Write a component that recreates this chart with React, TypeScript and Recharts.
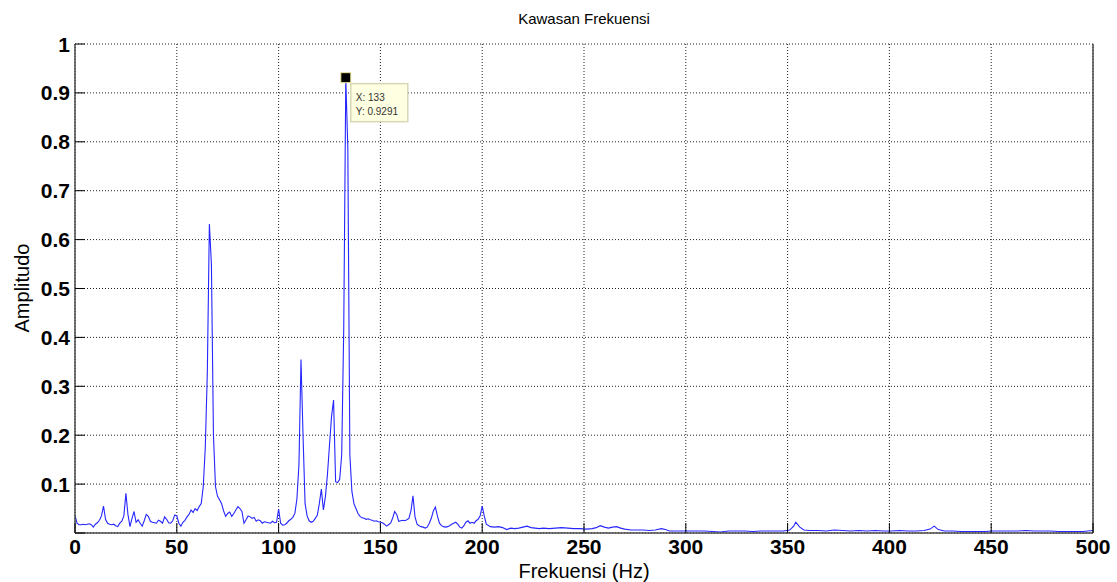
import React from "react";
import { LineChart, Line, XAxis, YAxis, CartesianGrid, ReferenceDot } from "recharts";

if (typeof document !== "undefined") {
  document.body.style.margin = "0";
  document.body.style.overflow = "hidden";
}

// Spectrum 0..200 Hz at 1 Hz resolution
const lowFreqAmplitude: number[] = [
  0.036, 0.02, 0.017, 0.017, 0.018, 0.017, 0.018, 0.019, 0.017, 0.012,
  0.018, 0.021, 0.026, 0.035, 0.055, 0.028, 0.02, 0.018, 0.017, 0.018,
  0.015, 0.013, 0.02, 0.024, 0.035, 0.081, 0.038, 0.013, 0.03, 0.044,
  0.022, 0.027, 0.02, 0.014, 0.025, 0.038, 0.034, 0.024, 0.022, 0.021,
  0.02, 0.026, 0.024, 0.02, 0.033, 0.028, 0.021, 0.02, 0.025, 0.037,
  0.035, 0.02, 0.014, 0.022, 0.026, 0.033, 0.038, 0.047, 0.042, 0.05,
  0.046, 0.054, 0.06, 0.095, 0.176, 0.33, 0.632, 0.55, 0.2, 0.095,
  0.075, 0.068, 0.06, 0.045, 0.034, 0.04, 0.043, 0.034, 0.04, 0.047,
  0.054, 0.05, 0.044, 0.02, 0.027, 0.035, 0.033, 0.03, 0.032, 0.024,
  0.027, 0.025, 0.02, 0.023, 0.022, 0.021, 0.02, 0.024, 0.021, 0.022,
  0.049, 0.02, 0.016, 0.017, 0.02, 0.025, 0.028, 0.032, 0.04, 0.07,
  0.14, 0.355, 0.2, 0.06, 0.035, 0.025, 0.022, 0.024, 0.03, 0.036,
  0.06, 0.09, 0.047, 0.075, 0.12, 0.18, 0.238, 0.272, 0.105, 0.103,
  0.11, 0.16, 0.42, 0.9291, 0.787, 0.16, 0.085, 0.06, 0.05, 0.04,
  0.034, 0.031, 0.03, 0.028, 0.029, 0.027, 0.026, 0.024, 0.025, 0.023,
  0.022, 0.021, 0.018, 0.014, 0.017, 0.02, 0.03, 0.044, 0.038, 0.024,
  0.025, 0.026, 0.025, 0.027, 0.03, 0.045, 0.076, 0.033, 0.018, 0.015,
  0.013, 0.012, 0.01, 0.012, 0.02, 0.03, 0.045, 0.053, 0.035, 0.02,
  0.015, 0.013, 0.012, 0.013, 0.015, 0.018, 0.02, 0.022, 0.018, 0.012,
  0.01, 0.015, 0.022, 0.025, 0.02, 0.022, 0.02, 0.025, 0.028, 0.035,
  0.055,
];

// Tail of the spectrum (201..500 Hz)
const tailFreq: number[] = [
  201, 202, 204, 206, 208, 210, 212, 214, 216, 218, 220, 222, 224, 226, 228, 230,
  233, 236, 239, 242, 245, 248, 251, 254, 256, 258, 260, 262, 264, 266, 268, 270,
  273, 276, 279, 282, 285, 288, 290, 292, 295, 298, 301, 305, 309, 313, 317, 321,
  325, 329, 333, 337, 341, 345, 348, 351, 353, 354, 356, 358, 361, 365, 369, 373,
  377, 381, 385, 389, 393, 397, 401, 405, 409, 413, 417, 420, 422, 424, 427, 431,
  435, 439, 443, 447, 451, 455, 459, 463, 467, 471, 475, 479, 483, 487, 491, 495, 500,
];
const tailAmplitude: number[] = [
  0.035, 0.018, 0.013, 0.012, 0.013, 0.011, 0.007, 0.01, 0.009, 0.01, 0.012, 0.014, 0.011, 0.01, 0.009, 0.01,
  0.009, 0.01, 0.011, 0.01, 0.009, 0.009, 0.008, 0.009, 0.011, 0.015, 0.012, 0.01, 0.012, 0.013, 0.01, 0.008,
  0.006, 0.006, 0.006, 0.005, 0.006, 0.009, 0.007, 0.004, 0.004, 0.004, 0.004, 0.004, 0.004, 0.003, 0.002, 0.004,
  0.004, 0.004, 0.003, 0.004, 0.004, 0.004, 0.004, 0.006, 0.014, 0.022, 0.012, 0.006, 0.005, 0.005, 0.004, 0.006,
  0.005, 0.004, 0.005, 0.004, 0.005, 0.004, 0.004, 0.005, 0.004, 0.004, 0.005, 0.008, 0.014, 0.007, 0.004, 0.004,
  0.003, 0.003, 0.003, 0.003, 0.004, 0.004, 0.004, 0.004, 0.005, 0.004, 0.004, 0.004, 0.003, 0.003, 0.003, 0.003, 0.005,
];

const xTicks: number[] = [0, 50, 100, 150, 200, 250, 300, 350, 400, 450, 500];
const yTicks: number[] = [0, 0.1, 0.2, 0.3, 0.4, 0.5, 0.6, 0.7, 0.8, 0.9, 1];
const peakFreq = 133;
const peakAmp = 0.9291;

const data = [
  ...lowFreqAmplitude.map((a, i) => ({ f: i, a })),
  ...tailFreq.map((f, i) => ({ f, a: tailAmplitude[i] })),
];

const FONT = '"Liberation Sans", Arial, Helvetica, sans-serif';
const TICK_LEN = 10;
const AXIS_COLOR = "#4a4a4a";

const LeftTick = (props: any) => {
  const { x, y, payload } = props;
  const v = payload.value;
  return (
    <g>
      {v !== 0 && (
        <text x={x} y={y} dy="0.36em" textAnchor="end" fontFamily={FONT} fontWeight="bold" fontSize={21} fill="#000">
          {String(v)}
        </text>
      )}
      <line x1={x + 5} x2={x + 5 + TICK_LEN} y1={y} y2={y} stroke="#000" strokeWidth={1} />
    </g>
  );
};

const RightTick = (props: any) => {
  const { x, y } = props;
  return <line x1={x} x2={x - TICK_LEN} y1={y} y2={y} stroke="#000" strokeWidth={1} />;
};

const BottomTick = (props: any) => {
  const { x, y, payload } = props;
  return (
    <g>
      <text x={x} y={y} dy="0.71em" textAnchor="middle" fontFamily={FONT} fontWeight="bold" fontSize={21} fill="#000">
        {String(payload.value)}
      </text>
      <line x1={x} x2={x} y1={y - 6} y2={y - 6 - TICK_LEN} stroke="#000" strokeWidth={1} />
    </g>
  );
};

const TopTick = (props: any) => {
  const { x, y } = props;
  return <line x1={x} x2={x} y1={y} y2={y + TICK_LEN} stroke="#000" strokeWidth={1} />;
};

const DataTip = (props: any) => {
  const { cx, cy } = props;
  if (cx == null || cy == null) return null;
  return (
    <g>
      <rect x={cx + 5} y={cy + 5} width={57} height={38} fill="#ffffe1" stroke="#d8d6b8" strokeWidth={1.5} />
      <text x={cx + 10} y={cy + 22} fontFamily={FONT} fontSize={10} fill="#333">{`X: ${peakFreq}`}</text>
      <text x={cx + 10} y={cy + 36} fontFamily={FONT} fontSize={10} fill="#333">{`Y: ${peakAmp}`}</text>
      <rect x={cx - 5} y={cy - 6} width={10} height={10} fill="#000" stroke="#f0e8a0" strokeWidth={1} />
    </g>
  );
};

export default function App() {
  const W = 1117;
  const H = 582;
  return (
    <div style={{ position: "relative", width: W, height: H, background: "#fff", fontFamily: FONT, overflow: "hidden" }}>
      <LineChart width={W} height={H} data={data} margin={{ top: 44, right: 0, bottom: 0, left: 0 }}>
        <CartesianGrid
          xAxisId="b"
          yAxisId="l"
          stroke="#222"
          strokeDasharray="1 2"
          strokeWidth={1}
        />
        <XAxis
          xAxisId="b"
          dataKey="f"
          type="number"
          domain={[0, 500]}
          ticks={xTicks}
          interval={0}
          height={49}
          tickSize={0}
          tickMargin={6}
          tick={<BottomTick />}
          axisLine={{ stroke: AXIS_COLOR, strokeWidth: 1.5 }}
          allowDataOverflow
        />
        <XAxis
          xAxisId="t"
          orientation="top"
          dataKey="f"
          type="number"
          domain={[0, 500]}
          ticks={xTicks}
          interval={0}
          height={0}
          tickSize={0}
          tickMargin={0}
          tick={<TopTick />}
          axisLine={{ stroke: AXIS_COLOR, strokeWidth: 1.5 }}
        />
        <YAxis
          yAxisId="l"
          type="number"
          domain={[0, 1]}
          ticks={yTicks}
          interval={0}
          width={75}
          tickSize={0}
          tickMargin={5}
          tick={<LeftTick />}
          axisLine={{ stroke: AXIS_COLOR, strokeWidth: 1.5 }}
          allowDataOverflow
        />
        <YAxis
          yAxisId="r"
          orientation="right"
          type="number"
          domain={[0, 1]}
          ticks={yTicks}
          interval={0}
          width={24}
          tickSize={0}
          tickMargin={0}
          tick={<RightTick />}
          axisLine={{ stroke: AXIS_COLOR, strokeWidth: 1.5 }}
        />
        <Line
          xAxisId="b"
          yAxisId="l"
          type="linear"
          dataKey="a"
          stroke="#2626ff"
          strokeWidth={1.1}
          dot={false}
          activeDot={false}
          isAnimationActive={false}
        />
        <ReferenceDot
          xAxisId="b"
          yAxisId="l"
          x={peakFreq}
          y={peakAmp}
          r={5}
          shape={<DataTip />}
          ifOverflow="visible"
        />
      </LineChart>
      <div style={{ position: "absolute", left: 584, top: 18, transform: "translate(-50%, -50%)", fontSize: 15, lineHeight: 1, whiteSpace: "nowrap", color: "#000" }}>
        Kawasan Frekuensi
      </div>
      <div style={{ position: "absolute", left: 584, top: 571, transform: "translate(-50%, -50%)", fontSize: 20, lineHeight: 1, whiteSpace: "nowrap", color: "#000" }}>
        Frekuensi (Hz)
      </div>
      <div style={{ position: "absolute", left: 21.5, top: 288, transform: "translate(-50%, -50%) rotate(-90deg)", fontSize: 20, lineHeight: 1, whiteSpace: "nowrap", color: "#000" }}>
        Amplitudo
      </div>
    </div>
  );
}
